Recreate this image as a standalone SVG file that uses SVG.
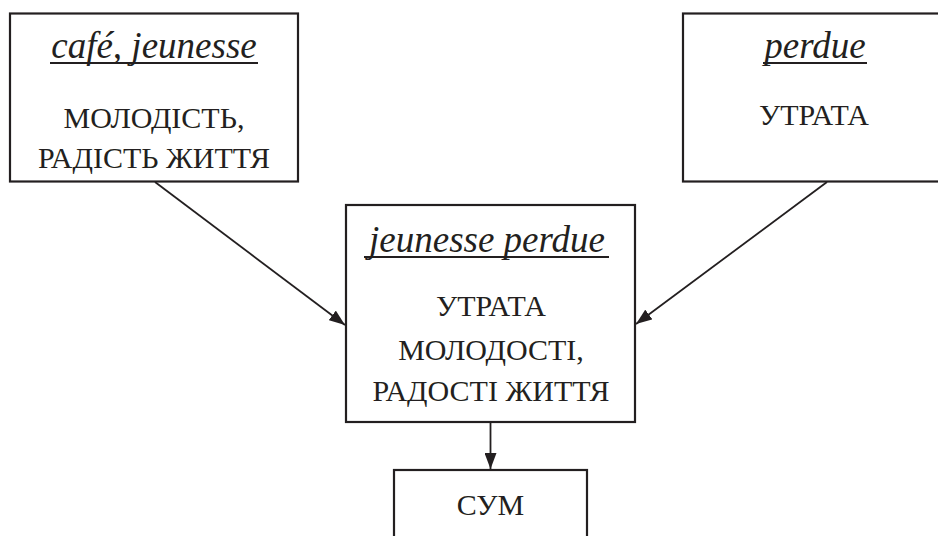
<svg xmlns="http://www.w3.org/2000/svg" width="938" height="536" viewBox="0 0 938 536">
<style>
.box{fill:#ffffff;stroke:#231f20;stroke-width:2.2}
.ul{stroke:#231f20;stroke-width:2}
.con{stroke:#231f20;stroke-width:1.8;fill:none}
</style>
<defs>
<marker id="ah" viewBox="0 0 16 12" refX="16" refY="6" markerWidth="16" markerHeight="12" markerUnits="userSpaceOnUse" orient="auto">
<path d="M0,0 L16,6 L0,12 Z" fill="#231f20"/>
</marker>
</defs>
<g id="connectors">
<line class="con" x1="155" y1="182" x2="345" y2="325" marker-end="url(#ah)"/>
<line class="con" x1="827" y1="182" x2="636" y2="324" marker-end="url(#ah)"/>
<line class="con" x1="490.5" y1="422" x2="490.5" y2="469" marker-end="url(#ah)"/>
</g>
<g id="node-cafe">
<rect class="box" x="10" y="13.5" width="288" height="168"/>
<text x="154" y="58" font-family="Liberation Serif" font-size="37" font-style="italic" text-anchor="middle" fill="#231f20">café, jeunesse</text>
<line class="ul" x1="50" y1="63" x2="258" y2="63"/>
<text x="154" y="128" font-family="Liberation Serif" font-size="30" text-anchor="middle" fill="#231f20">МОЛОДІСТЬ,</text>
<text x="154" y="168" font-family="Liberation Serif" font-size="30" text-anchor="middle" fill="#231f20">РАДІСТЬ ЖИТТЯ</text>
</g>
<g id="node-perdue">
<rect class="box" x="683" y="13.5" width="264" height="168"/>
<text x="815" y="58" font-family="Liberation Serif" font-size="37" font-style="italic" text-anchor="middle" fill="#231f20">perdue</text>
<line class="ul" x1="763" y1="63" x2="867" y2="63"/>
<text x="814" y="125" font-family="Liberation Serif" font-size="30" text-anchor="middle" fill="#231f20">УТРАТА</text>
</g>
<g id="node-jeunesse-perdue">
<rect class="box" x="346" y="205" width="289" height="217"/>
<text x="487" y="252" font-family="Liberation Serif" font-size="37" font-style="italic" text-anchor="middle" fill="#231f20">jeunesse perdue</text>
<line class="ul" x1="364" y1="257" x2="609" y2="257"/>
<text x="491" y="316" font-family="Liberation Serif" font-size="30" text-anchor="middle" fill="#231f20">УТРАТА</text>
<text x="491" y="360" font-family="Liberation Serif" font-size="30" text-anchor="middle" fill="#231f20">МОЛОДОСТІ,</text>
<text x="491" y="401" font-family="Liberation Serif" font-size="30" text-anchor="middle" fill="#231f20">РАДОСТІ ЖИТТЯ</text>
</g>
<g id="node-sum">
<rect class="box" x="394" y="470" width="193" height="80"/>
<text x="490.5" y="515" font-family="Liberation Serif" font-size="30" text-anchor="middle" fill="#231f20">СУМ</text>
</g>
</svg>
